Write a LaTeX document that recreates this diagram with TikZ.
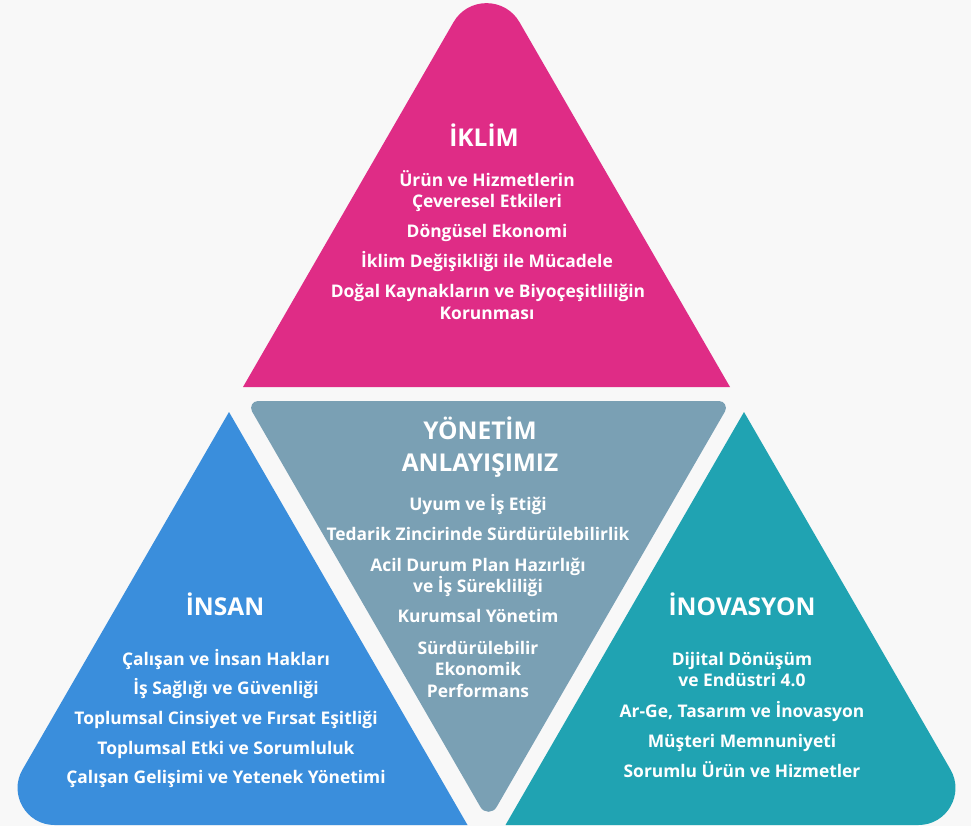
\documentclass[tikz,border=0pt]{standalone}
\usepackage{fontspec}
\setmainfont{Open Sans}
\usetikzlibrary{calc}
\definecolor{bgc}{HTML}{F8F8F8}
\definecolor{pinkc}{HTML}{DF2C86}
\definecolor{grayc}{HTML}{7AA0B4}
\definecolor{bluec}{HTML}{3A8EDC}
\definecolor{tealc}{HTML}{20A3B2}
\begin{document}
\begin{tikzpicture}[x=1pt,y=-1pt,
  ttl/.style={text=white,font=\bfseries\fontsize{24.5}{26}\selectfont,inner sep=0,anchor=base},
  itm/.style={text=white,font=\bfseries\fontsize{17.4}{20}\selectfont,inner sep=0,anchor=base}]
\useasboundingbox (0,0) rectangle (971,826);
\fill[bgc] (0,0) rectangle (971,826);
\clip (0,0) rectangle (971,826);
% corner points
\coordinate (PA) at (486.5,-35);
\coordinate (PL) at (243,387);
\coordinate (PR) at (730,387);
\coordinate (GL) at (246,401);
\coordinate (GR) at (731,401);
\coordinate (GB) at (488.5,821);
\coordinate (BA) at (229,412);
\coordinate (BL) at (-9.5,825);
\coordinate (BR) at (467.5,825);
\coordinate (TA) at (744,412);
\coordinate (TL) at (505.5,825);
\coordinate (TR) at (982.5,825);
% pink
\fill[pinkc] (PL) -- ($(PA)!66pt!(PL)$) .. controls ($(PA)!36.7pt!(PL)$) and ($(PA)!36.7pt!(PR)$) .. ($(PA)!66pt!(PR)$) -- (PR) -- cycle;
% gray
\fill[grayc] ($(GL)!12pt!(GR)$) -- ($(GR)!12pt!(GL)$) .. controls ($(GR)!6.7pt!(GL)$) and ($(GR)!6.7pt!(GB)$) .. ($(GR)!12pt!(GB)$)
  -- ($(GB)!16pt!(GR)$) .. controls ($(GB)!8.9pt!(GR)$) and ($(GB)!8.9pt!(GL)$) .. ($(GB)!16pt!(GL)$)
  -- ($(GL)!12pt!(GB)$) .. controls ($(GL)!6.7pt!(GB)$) and ($(GL)!6.7pt!(GR)$) .. cycle;
% blue
\fill[bluec] (BA) -- ($(BL)!64pt!(BA)$) .. controls ($(BL)!35.6pt!(BA)$) and ($(BL)!35.6pt!(BR)$) .. ($(BL)!64pt!(BR)$) -- (BR) -- cycle;
% teal
\fill[tealc] (TA) -- (TL) -- ($(TR)!64pt!(TL)$) .. controls ($(TR)!35.6pt!(TL)$) and ($(TR)!35.6pt!(TA)$) .. ($(TR)!64pt!(TA)$) -- cycle;
% pink texts
\node[ttl] (p0) at (484,147) {İKLİM};
\node[itm] (p1) at (487,187) {Ürün ve Hizmetlerin};
\node[itm] (p2) at (487,208) {Çeveresel Etkileri};
\node[itm] (p3) at (487,238) {Döngüsel Ekonomi};
\node[itm] (p4) at (487,268) {İklim Değişikliği ile Mücadele};
\node[itm] (p5) at (488,297) {Doğal Kaynakların ve Biyoçeşitliliğin};
\node[itm] (p6) at (487,319) {Korunması};
% gray texts
\node[ttl] (g0) at (480,439) {YÖNETİM};
\node[ttl] (g1) at (480,471) {ANLAYIŞIMIZ};
\node[itm] (g2) at (478,510) {Uyum ve İş Etiği};
\node[itm] (g3) at (478,540) {Tedarik Zincirinde Sürdürülebilirlik};
\node[itm] (g4) at (478,571) {Acil Durum Plan Hazırlığı};
\node[itm] (g5) at (478,592) {ve İş Sürekliliği};
\node[itm] (g6) at (478,622) {Kurumsal Yönetim};
\node[itm] (g7) at (478,654) {Sürdürülebilir};
\node[itm] (g8) at (478,675) {Ekonomik};
\node[itm] (g9) at (478,697) {Performans};
% blue texts
\node[ttl] (b0) at (225,615) {İNSAN};
\node[itm] (b1) at (226,665) {Çalışan ve İnsan Hakları};
\node[itm] (b2) at (226,694) {İş Sağlığı ve Güvenliği};
\node[itm] (b3) at (226,724) {Toplumsal Cinsiyet ve Fırsat Eşitliği};
\node[itm] (b4) at (226,754) {Toplumsal Etki ve Sorumluluk};
\node[itm] (b5) at (226,783) {Çalışan Gelişimi ve Yetenek Yönetimi};
% teal texts
\node[ttl] (t0) at (742,615) {İNOVASYON};
\node[itm] (t1) at (742,665) {Dijital Dönüşüm};
\node[itm] (t2) at (742,686) {ve Endüstri 4.0};
\node[itm] (t3) at (742,717) {Ar-Ge, Tasarım ve İnovasyon};
\node[itm] (t4) at (742,747) {Müşteri Memnuniyeti};
\node[itm] (t5) at (742,777) {Sorumlu Ürün ve Hizmetler};
\end{tikzpicture}
\end{document}
